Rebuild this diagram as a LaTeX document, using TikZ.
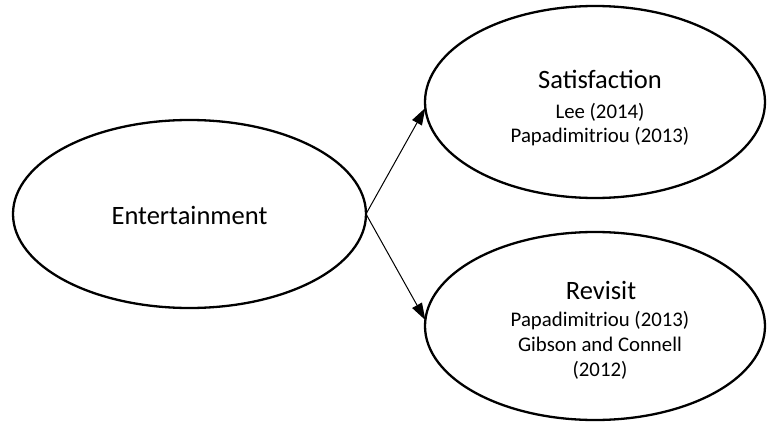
\documentclass[tikz,border=0pt]{standalone}
\usepackage{fontspec}
\setmainfont{Carlito}
\usetikzlibrary{shapes.geometric,arrows.meta}
\begin{document}
\begin{tikzpicture}[x=0.5pt,y=-0.5pt,
  construct/.style={draw=black,line width=1.15pt,ellipse,inner sep=0pt,outer sep=0pt},
  title/.style={anchor=base,inner sep=0pt,font=\fontsize{13.25}{16}\selectfont},
  cite/.style={anchor=base,inner sep=0pt,font=\fontsize{10.4}{12.5}\selectfont},
  link/.style={draw=black,line width=0.5pt,-{Triangle[length=8.5pt,width=5.5pt]}}]
  \useasboundingbox (0,0) rectangle (767,423);

  % constructs
  \node[construct,minimum width=176.5pt,minimum height=94pt] (ent) at (189.5,214) {};
  \node[construct,minimum width=170pt,minimum height=96pt] (sat) at (595,102) {};
  \node[construct,minimum width=170pt,minimum height=94pt] (rev) at (595,326) {};

  % labels
  \node[title] (entlbl) at (189.5,224) {Entertainment};

  \node[title] (satlbl) at (600,89) {Satisfaction};
  \node[cite] (sat1) at (600,119) {Lee (2014)};
  \node[cite] (sat2) at (600,142) {Papadimitriou (2013)};

  \node[title] (revlbl) at (601,299) {Revisit};
  \node[cite] (rev1) at (600,326) {Papadimitriou (2013)};
  \node[cite] (rev2) at (600,351) {Gibson and Connell};
  \node[cite] (rev3) at (600,376) {(2012)};

  % relationships
  \draw[link] (ent.east) -- (sat.182);
  \draw[link] (ent.east) -- (rev.178);
\end{tikzpicture}
\end{document}
